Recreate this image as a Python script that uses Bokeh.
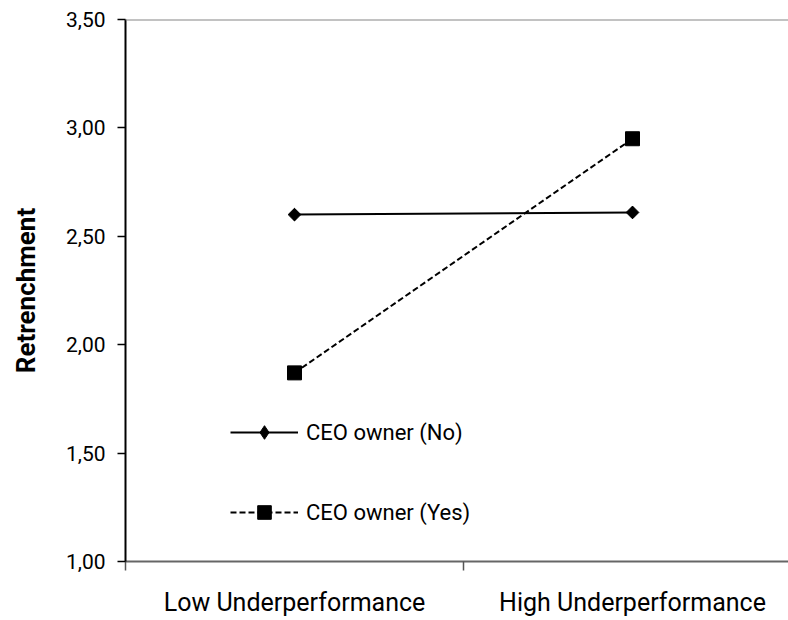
from bokeh.plotting import figure
from bokeh.models import Range1d, FixedTicker, Span, Legend, LegendItem
from bokeh.embed import file_html
from bokeh.resources import INLINE
import math

categories = ["Low Underperformance", "High Underperformance"]
ceo_no = [2.60, 2.61]
ceo_yes = [1.87, 2.95]
y_ticks = [1.0, 1.5, 2.0, 2.5, 3.0, 3.5]
y_tick_labels = ["1,00", "1,50", "2,00", "2,50", "3,00", "3,50"]

FONT = "Roboto"

xpos = [i + 0.5 for i in range(len(categories))]

p = figure(width=788, height=620, output_backend="svg", toolbar_location=None,
           x_range=Range1d(0, 1.9615), y_range=Range1d(1.0, 3.5),
           min_border_left=125, min_border_right=0, min_border_top=19, min_border_bottom=59)
p.outline_line_color = None
p.grid.visible = False
p.background_fill_color = "white"
p.border_fill_color = "white"

# x axis
p.xaxis.ticker = FixedTicker(ticks=xpos, minor_ticks=[0.0, 1.0])
p.xaxis.major_label_overrides = {x: c for x, c in zip(xpos, categories)}
p.xaxis.major_tick_out = 0
p.xaxis.major_tick_in = 0
p.xaxis.minor_tick_out = 9
p.xaxis.minor_tick_in = 0
p.xaxis.minor_tick_line_color = "#555555"
p.xaxis.minor_tick_line_width = 1.5
p.xaxis.axis_line_color = "#666666"
p.xaxis.axis_line_width = 2
p.xaxis.major_label_text_font = FONT
p.xaxis.major_label_text_font_size = "25px"
p.xaxis.major_label_text_color = "black"
p.xaxis.major_label_standoff = 17

# y axis
p.yaxis.ticker = FixedTicker(ticks=y_ticks, minor_ticks=[])
p.yaxis.major_label_overrides = {t: l for t, l in zip(y_ticks, y_tick_labels)}
p.yaxis.major_tick_out = 8
p.yaxis.major_tick_in = 0
p.yaxis.major_tick_line_width = 1.5
p.yaxis.major_tick_line_color = "black"
p.yaxis.axis_line_color = "black"
p.yaxis.axis_line_width = 2
p.yaxis.major_label_text_font = FONT
p.yaxis.major_label_text_font_size = "21px"
p.yaxis.major_label_text_color = "black"
p.yaxis.major_label_standoff = 12
p.yaxis.axis_label = "Retrenchment"
p.yaxis.axis_label_text_font = FONT
p.yaxis.axis_label_text_font_size = "26px"
p.yaxis.axis_label_text_font_style = "bold"
p.yaxis.axis_label_text_color = "black"
p.yaxis.axis_label_standoff = 22

# top border line
p.add_layout(Span(location=3.5, dimension="width", line_color="#868686", line_width=2))

l_no = p.line(xpos, ceo_no, line_color="black", line_width=2)
# diamond glyph (used for the legend; hidden under the rotated squares)
d_no = p.scatter(xpos, ceo_no, marker="diamond", size=12,
                 fill_color="black", line_color="black")
m_no = p.scatter(xpos, ceo_no, marker="square", size=9, angle=math.pi / 4,
                 fill_color="black", line_color="black")
l_yes = p.line(xpos, ceo_yes, line_color="black", line_width=2, line_dash="6 3")
m_yes = p.scatter(xpos, ceo_yes, marker="square", size=14,
                  fill_color="black", line_color="black")

legend = Legend(items=[LegendItem(label="CEO owner (No)", renderers=[l_no, d_no]),
                       LegendItem(label="CEO owner (Yes)", renderers=[l_yes, m_yes])],
                location=(105, 32), orientation="vertical",
                glyph_width=68, glyph_height=34, label_height=34, spacing=46,
                label_standoff=8, padding=0, margin=0,
                border_line_color=None, background_fill_alpha=0,
                label_text_font=FONT, label_text_font_size="22px", label_text_color="black")
p.add_layout(legend)

open("out.html", "w").write(file_html(p, INLINE))
